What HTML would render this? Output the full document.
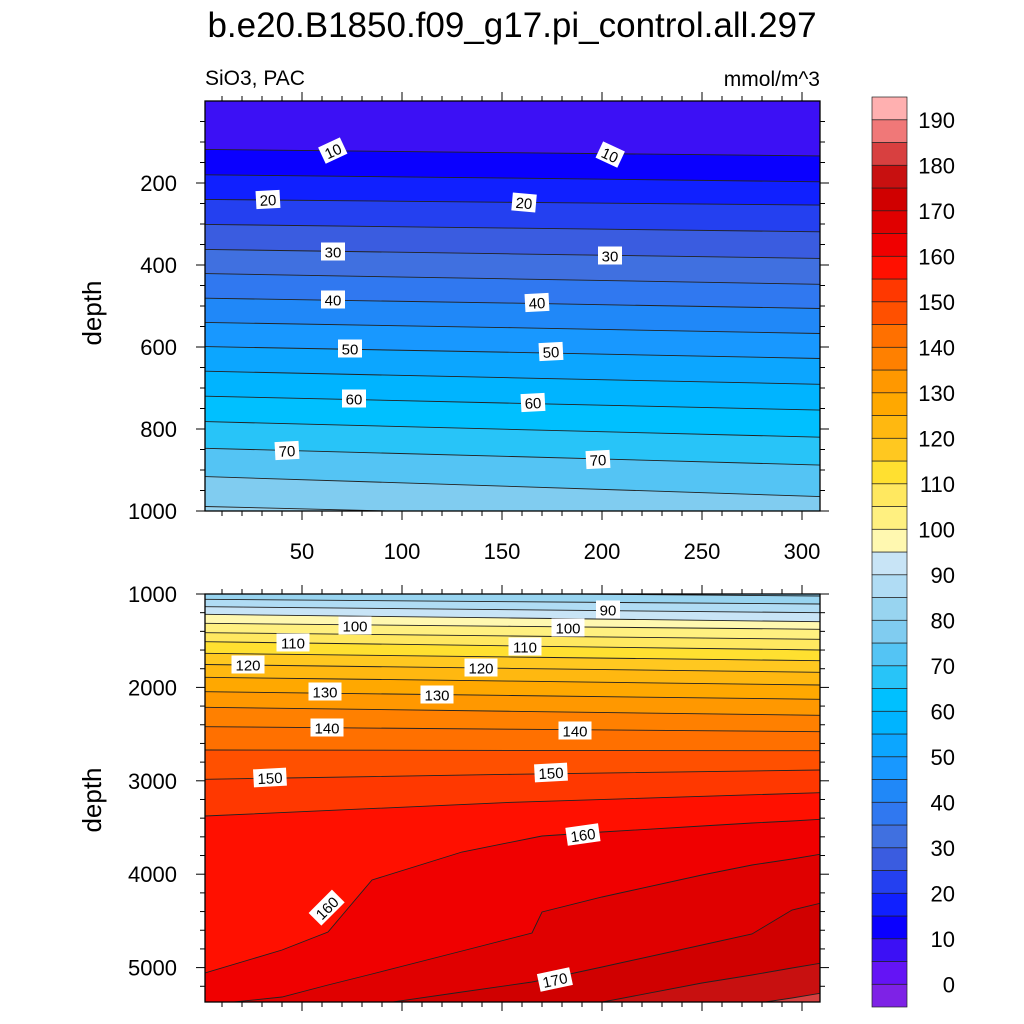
<!DOCTYPE html>
<html><head><meta charset="utf-8"><style>
html,body{margin:0;padding:0;background:#fff;overflow:hidden;width:1024px;height:1024px;}
svg{display:block;}
svg text{font-family:"Liberation Sans",sans-serif;}
</style></head><body>
<svg id="chart" width="1024" height="1024" viewBox="0 0 1024 1024" xmlns="http://www.w3.org/2000/svg">
<text x="512" y="37" font-size="35" text-anchor="middle">b.e20.B1850.f09_g17.pi_control.all.297</text>
<text x="205" y="85" font-size="21">SiO3, PAC</text>
<text x="820" y="86" font-size="21" text-anchor="end">mmol/m^3</text>
<defs>
<clipPath id="clipTop"><rect x="205" y="101" width="615" height="410"/></clipPath>
<clipPath id="clipBot"><rect x="205" y="594" width="615" height="408"/></clipPath>
</defs>
<g id="top"></g>
<g id="bot"></g>
<g id="cbar"></g>
</svg>
<script>
const colors=["#7e22e6","#6414f5","#3c10f5","#0a00ff","#1020ff","#2440f0","#3a5ce0","#4070e0","#3078f0","#2088f8","#1898ff","#0ca6ff","#00b4ff","#00c0ff","#28c4f8","#54c4f4","#80ccf0","#98d4f0","#b0dcf4","#c8e4f6","#fff8b0","#fff080","#ffe860","#ffe030","#ffc820","#ffb810","#ffa800","#ff9800","#ff8000","#ff7000","#ff5000","#ff3800","#ff1000","#f00000","#e00000","#d00000","#c81010","#d84040","#f07878","#ffb0b0"];
const cbarLabels=[0,10,20,30,40,50,60,70,80,90,100,110,120,130,140,150,160,170,180,190];

const topX=[1.5,155,309];
const topLevels=[10,15,20,25,30,35,40,45,50,55,60,65,70,75,80];
const topDepths=[[118,126,134],[180,188,197],[240,247,254],[301,310,319],[362,373,384],[421,434,447],[481,493,506],[540,553,567],[599,613,628],[659,675,691],[720,737,754],[782,801,820],[847,867,888],[916,940,965],[989,1014,1040]];
const topYTicks=[200,400,600,800,1000];
const xTicks=[50,100,150,200,250,300];

const botSimpleX=[1.5,155,309];
const botSimpleLevels=[80,85,90,95,100,105,110,115,120,125,130,135,140,145,150,155];
const botSimpleDepths=[[968,995,1021],[1057,1082,1107],[1136,1168,1200],[1217,1257,1297],[1314,1346,1378],[1414,1450,1485],[1511,1556,1600],[1635,1675,1714],[1755,1797,1838],[1892,1933,1974],[2046,2087,2127],[2213,2256,2299],[2421,2448,2474],[2670,2674,2678],[2984,2930,2884],[3377,3230,3127]];
const botDeepX=[1.5,40,63,85,130,165,170,200,250,275,295,309];
const botDeepLevels=[160,165,170,175,180];
const botDeepDepths=[
 [5058,4812,4619,4062,3762,3612,3591,3548,3484,3452,3430,3412],
 [5529,5315,5186,5069,4822,4630,4405,4244,4009,3902,3837,3787],
 [5829,5668,5572,5433,5261,5154,5133,4994,4758,4640,4383,4312],
 [6311,6097,5990,5882,5668,5508,5486,5369,5165,5079,5004,4954],
 [6846,6632,6525,6364,5990,5775,5754,5615,5454,5390,5326,5275]];
const botYTicks=[1000,2000,3000,4000,5000];

const NS="http://www.w3.org/2000/svg";
function mk(tag,attrs,parent){const e=document.createElementNS(NS,tag);for(const k in attrs)e.setAttribute(k,attrs[k]);parent.appendChild(e);return e;}
const xS=v=>202+2*v;
const yTop=d=>101+d*0.41;
const yBot=d=>594+(d-1000)*0.0934;
const col=l=>colors[l/5+1];

function panel(g,clipId,y0,y1,ySc,bgLevel,series,name){
  const cy=d=>Math.max(y0-3,Math.min(y1+3,ySc(d)));
  const cg=mk('g',{'clip-path':'url(#'+clipId+')'},g);
  const bg=mk('rect',{x:205,y:y0,width:615,height:y1-y0,fill:col(bgLevel)},cg);
  
  
  series.forEach(s=>{
    const pts=s.xs.map((x,i)=>xS(x).toFixed(1)+','+cy(s.d[i]).toFixed(1));
    const fillPts=pts.concat([xS(s.xs[s.xs.length-1])+','+(y1+3),xS(s.xs[0])+','+(y1+3)]);
    const p=mk('polygon',{points:fillPts.join(' '),fill:col(s.level)},cg);
    
    
  });
  series.forEach(s=>{
    const pts=s.xs.map((x,i)=>xS(x).toFixed(1)+','+cy(s.d[i]).toFixed(1));
    const l=mk('polyline',{points:pts.join(' '),fill:'none',stroke:'#222','stroke-width':0.9},cg);
    
    
  });
  const fr=mk('rect',{x:205,y:y0,width:615,height:y1-y0,fill:'none',stroke:'#000','stroke-width':1.3},g);
  
  
}
function xTicksDraw(g,y0,y1,labels){
  for(let v=10;v<=300;v+=10){
    const major=v%50===0,len=major?9:5;
    mk('line',{x1:xS(v),x2:xS(v),y1:y0,y2:y0-len,stroke:'#000','stroke-width':1},g);
    mk('line',{x1:xS(v),x2:xS(v),y1:y1,y2:y1+len,stroke:'#000','stroke-width':1},g);
  }
  if(labels) xTicks.forEach(v=>{
    const t=mk('text',{x:xS(v),y:y1+48,'font-size':22,'text-anchor':'middle'},g);
    t.textContent=v;
    
    
  });
}
function yTicksDraw(g,ySc,from,to,step,majorStep,labels,y0,y1){
  for(let v=from;v<=to;v+=step){
    const y=ySc(v); if(y<y0-0.5||y>y1+0.5) continue;
    const major=v%majorStep===0,len=major?9:5;
    mk('line',{x1:205,x2:205-len,y1:y,y2:y,stroke:'#000','stroke-width':1},g);
    mk('line',{x1:820,x2:820+len,y1:y,y2:y,stroke:'#000','stroke-width':1},g);
  }
  labels.forEach(v=>{
    const t=mk('text',{x:177,y:ySc(v)+8,'font-size':22,'text-anchor':'end'},g);
    t.textContent=v;
    
    
  });
}
function clabel(g,txt,x,y,rot){
  const gg=mk('g',{transform:'translate('+x+','+y+') rotate('+(rot||0)+')'},g);
  
  
  const w=txt.length*9+6;
  mk('rect',{x:-w/2,y:-9.5,width:w,height:18,fill:'#fff'},gg);
  const t=mk('text',{x:0,y:5.5,'font-size':15,'text-anchor':'middle'},gg);
  t.textContent=txt;
}
function ytitle(g,y){
  const t=mk('text',{x:101,y:y,'font-size':26,'text-anchor':'middle',transform:'rotate(-90 101 '+y+')'},g);
  t.textContent='depth';
  
  
}

const gt=document.getElementById('top');
panel(gt,'clipTop',101,511,yTop,5,topLevels.map((l,i)=>({level:l,xs:topX,d:topDepths[i]})),'upper');
xTicksDraw(gt,101,511,true);
yTicksDraw(gt,yTop,50,1000,50,200,topYTicks,101,511);
ytitle(gt,313);
[["10",333,151,-25],["10",610,155,25],["20",268,200,-3],["20",524,203,5],["30",333,252,0],["30",610,256,0],["40",333,300,0],["40",537,303,-3],["50",350,349,0],["50",551,352,-3],["60",354,399,0],["60",533,403,-3],["70",287,451,-3],["70",598,460,-3]].forEach(a=>clabel(gt,...a));

const gb=document.getElementById('bot');
const botSeries=botSimpleLevels.map((l,i)=>({level:l,xs:botSimpleX,d:botSimpleDepths[i]})).concat(botDeepLevels.map((l,i)=>({level:l,xs:botDeepX,d:botDeepDepths[i]})));
panel(gb,'clipBot',594,1002,yBot,75,botSeries,'lower');
xTicksDraw(gb,594,1002,false);
yTicksDraw(gb,yBot,1000,5400,200,1000,botYTicks,594,1002);
ytitle(gb,800);
[["90",608,610,0],["100",355,626,0],["100",568,628,0],["110",293,643,0],["110",525,647,0],["120",248,665,0],["120",481,668,0],["130",325,692,0],["130",437,695,0],["140",327,728,0],["140",575,731,0],["150",270,778,-3],["150",551,773,-3],["160",583,835,-8],["160",327,908,-45],["170",555,980,-12]].forEach(a=>clabel(gb,...a));

const cb=document.getElementById('cbar');
const bh=910/colors.length;
colors.forEach((c,j)=>{
  const r=mk('rect',{x:872,y:1007-(j+1)*bh,width:35,height:bh,fill:c,stroke:'#222','stroke-width':0.7},cb);
  
  
});
cbarLabels.forEach(v=>{
  const j=v/5+1;
  const t=mk('text',{x:955,y:1007-j*bh+8,'font-size':22,'text-anchor':'end'},cb);
  t.textContent=v;
  
  
});
</script>
</body></html>
